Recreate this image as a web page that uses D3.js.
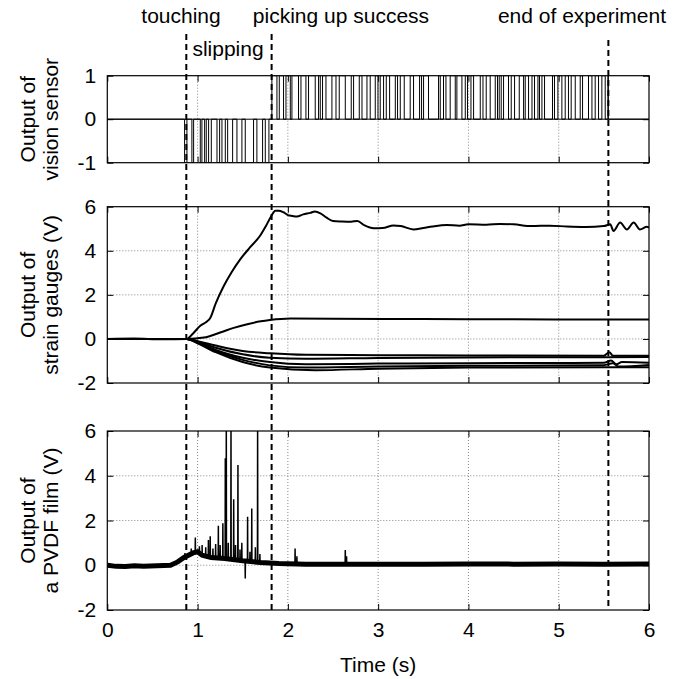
<!DOCTYPE html>
<html>
<head>
  <meta charset="UTF-8" />
  <title>Vision sensor, strain gauges and PVDF film</title>
  <script src="https://cdn.jsdelivr.net/npm/d3@7"></script>
  <style>
    body { margin: 0; background: #fff; }
    svg { display: block; font-family: 'Liberation Sans', Arial, sans-serif; }
    text { fill: #000; }
  </style>
</head>
<body>
  <svg id="chart" width="685" height="679"></svg>
  <script>
    // ---- data ----
    const timeTicks = [0, 1, 2, 3, 4, 5, 6];
    const visionTicks = [-1, 0, 1];
    const voltTicks = [-2, 0, 2, 4, 6];

    // event markers (s)
    const eventTimes = [0.875, 1.82, 5.55];

    // vision sensor: edges where output toggles 0 <-> -1 (slipping)
    const slipEdges = [0.856, 0.882, 0.937, 0.956, 1.030, 1.048, 1.078, 1.096, 1.122, 1.152,
      1.215, 1.244, 1.270, 1.307, 1.333, 1.388, 1.436, 1.491, 1.528, 1.620, 1.657, 1.720,
      1.750, 1.790];
    // vision sensor: rises to 1 at 1.823, then toggles 1 <-> 0 on these edges
    const successStart = 1.823;
    const successEdges = [1.879, 1.905, 1.952, 1.979, 2.027, 2.045, 2.118, 2.145, 2.200, 2.229,
      2.303, 2.340, 2.359, 2.384, 2.422, 2.488, 2.533, 2.569, 2.636, 2.702, 2.728, 2.791,
      2.821, 2.876, 2.912, 2.968, 2.998, 3.023, 3.060, 3.090, 3.127, 3.190, 3.215, 3.245,
      3.289, 3.355, 3.392, 3.459, 3.481, 3.503, 3.558, 3.669, 3.688, 3.724, 3.751, 3.798,
      3.854, 3.872, 3.928, 3.965, 3.990, 4.028, 4.057, 4.131, 4.161, 4.197, 4.241, 4.297,
      4.322, 4.341, 4.363, 4.389, 4.444, 4.474, 4.511, 4.563, 4.611, 4.629, 4.666, 4.704,
      4.732, 4.770, 4.787, 4.814, 4.843, 4.931, 4.953, 4.991, 5.035, 5.072, 5.108, 5.138,
      5.183, 5.238, 5.264, 5.330, 5.368, 5.404, 5.441, 5.478, 5.515, 5.545];
    const visionEnd = 5.55;

    // strain gauges [time, volts]
    const gaugeMain = [[0, 0], [0.3, 0.02], [0.6, -0.02], [0.88, 0], [0.95, 0.25], [1.03, 0.6],
      [1.1, 0.78], [1.14, 0.95], [1.2, 1.6], [1.29, 2.4], [1.38, 3.05], [1.47, 3.6], [1.58, 4.15],
      [1.69, 4.67], [1.76, 5.15], [1.82, 5.6], [1.86, 5.82], [1.9, 5.82], [1.95, 5.75], [2.0, 5.62],
      [2.05, 5.58], [2.1, 5.55], [2.17, 5.65], [2.25, 5.72], [2.3, 5.78], [2.36, 5.7], [2.43, 5.5],
      [2.5, 5.35], [2.6, 5.33], [2.7, 5.32], [2.77, 5.35], [2.85, 5.15], [2.95, 5.02], [3.05, 5.03],
      [3.17, 5.15], [3.25, 5.12], [3.39, 4.97], [3.5, 5.03], [3.6, 5.1], [3.76, 5.17], [3.9, 5.14],
      [4.0, 5.2], [4.2, 5.18], [4.35, 5.22], [4.5, 5.2], [4.7, 5.12], [4.9, 5.14], [5.09, 5.1],
      [5.3, 5.08], [5.5, 5.12], [5.57, 5.2], [5.607, 4.9], [5.68, 5.28], [5.755, 4.97], [5.83, 5.28],
      [5.9, 4.97], [5.977, 5.09], [6, 5.05]];
    const gaugeUp = [[0, 0], [0.88, 0], [1.07, 0.06], [1.25, 0.29], [1.4, 0.5], [1.55, 0.67],
      [1.7, 0.8], [1.8, 0.86], [2.03, 0.93], [2.5, 0.92], [3.5, 0.9], [4.5, 0.89], [5.5, 0.88], [6, 0.88]];
    const gaugeDown1 = [[0, 0], [0.88, 0], [1.0, -0.1], [1.2, -0.3], [1.5, -0.55], [1.8, -0.65],
      [2.2, -0.72], [3, -0.74], [4, -0.75], [5.5, -0.76], [5.56, -0.6], [5.6, -0.76], [6, -0.76]];
    const gaugeDown2 = [[0, 0], [0.88, 0], [1.0, -0.12], [1.2, -0.4], [1.5, -0.7], [1.8, -0.85],
      [2.2, -0.9], [3, -0.86], [4, -0.84], [5.5, -0.83], [6, -0.82]];
    const gaugeDown3 = [[0, 0], [0.88, 0], [1.0, -0.15], [1.2, -0.5], [1.5, -0.85], [1.8, -1.05],
      [2.2, -1.15], [3, -1.12], [4, -1.1], [5.5, -1.08], [5.58, -0.98], [5.64, -1.15], [5.7, -1.05], [6, -1.08]];
    const gaugeDown4 = [[0, 0], [0.88, 0], [1.0, -0.17], [1.2, -0.55], [1.5, -0.95], [1.8, -1.2],
      [2.2, -1.3], [3, -1.25], [4, -1.22], [5.5, -1.19], [5.6, -1.1], [5.66, -1.25], [6, -1.18]];
    const gaugeDown5 = [[0, 0], [0.88, 0], [1.0, -0.2], [1.2, -0.6], [1.5, -1.05], [1.8, -1.3],
      [2.3, -1.42], [3, -1.35], [4, -1.3], [5.5, -1.28], [6, -1.28]];
    const gauges = [gaugeMain, gaugeUp, gaugeDown1, gaugeDown2, gaugeDown3, gaugeDown4, gaugeDown5];

    // PVDF film: slow baseline [time, volts] and sharp spikes [time, peak volts]
    const pvdfBase = [[0, 0.0], [0.1, -0.05], [0.2, -0.06], [0.3, -0.02], [0.4, -0.04], [0.55, -0.02],
      [0.7, 0.0], [0.78, 0.15], [0.85, 0.35], [0.95, 0.55], [1.0, 0.6], [1.05, 0.45], [1.15, 0.35],
      [1.3, 0.3], [1.5, 0.2], [1.7, 0.12], [1.9, 0.08], [2.2, 0.05], [2.6, 0.05], [3.0, 0.04],
      [3.5, 0.05], [4.0, 0.06], [4.5, 0.05], [5.0, 0.06], [5.5, 0.05], [6, 0.06]];
    const pvdfSpikes = [[0.86, 0.55], [0.93, 0.75], [0.975, 1.24], [1.02, 0.85], [1.05, 0.9],
      [1.09, 0.8], [1.12, 1.13], [1.14, 1.3], [1.17, 0.75], [1.2, 0.95], [1.23, 1.76],
      [1.25, 0.9], [1.28, 1.88], [1.307, 4.78], [1.318, 6.5], [1.34, 1.0], [1.37, 6.5],
      [1.40, 2.95], [1.42, 0.9], [1.447, 4.48], [1.47, 0.7], [1.49, 1.0], [1.528, -0.59],
      [1.554, 2.17], [1.58, 0.6], [1.60, 2.54], [1.64, 0.8], [1.665, 6.5], [1.69, 0.5],
      [2.08, 0.75], [2.1, 0.4], [2.636, 0.68], [2.65, 0.4]];

    // ---- layout ----
    const svg = d3.select('#chart');
    const left = 107.3, right = 649;
    const fs = 21;
    const x = d3.scaleLinear().domain([0, 6]).range([left, right]);

    const panels = [
      { top: 75.7, bottom: 162.7, domain: [-1, 1], ticks: visionTicks, grid: false,
        title: ['Output of', 'vision sensor'] },
      { top: 206.7, bottom: 383, domain: [-2, 6], ticks: voltTicks, grid: true,
        title: ['Output of', 'strain gauges (V)'] },
      { top: 431, bottom: 610, domain: [-2, 6], ticks: voltTicks, grid: true,
        title: ['Output of', 'a PVDF film (V)'] }
    ];

    panels.forEach((p, i) => {
      p.y = d3.scaleLinear().domain(p.domain).range([p.bottom, p.top]);
      p.g = svg.append('g').attr('class', 'panel' + i);
      svg.append('clipPath').attr('id', 'clip' + i)
        .append('rect').attr('x', left).attr('y', p.top)
        .attr('width', right - left).attr('height', p.bottom - p.top);

      // dotted grid
      const grid = p.g.append('g').attr('stroke', '#888').attr('stroke-width', 1)
        .attr('stroke-dasharray', '1,2');
      grid.selectAll('.gx').data(timeTicks.slice(1, -1)).join('line')
        .attr('x1', d => x(d)).attr('x2', d => x(d))
        .attr('y1', p.top).attr('y2', p.bottom);
      if (p.grid) {
        grid.selectAll('.gy').data(p.ticks.slice(1, -1)).join('line')
          .attr('x1', left).attr('x2', right)
          .attr('y1', d => p.y(d)).attr('y2', d => p.y(d));
      }

      // axes with inward ticks, mirrored
      const axL = d3.axisLeft(p.y).tickValues(p.ticks).tickSize(-6).tickPadding(11)
        .tickFormat(d => String(d));
      const axR = d3.axisRight(p.y).tickValues(p.ticks).tickSize(-6).tickFormat('');
      const axB = d3.axisBottom(x).tickValues(timeTicks).tickSize(-6).tickPadding(12)
        .tickFormat(i === 2 ? d => String(d) : '');
      const axT = d3.axisTop(x).tickValues(timeTicks).tickSize(-6).tickFormat('');
      [[axL, `translate(${left},0)`], [axR, `translate(${right},0)`],
       [axB, `translate(0,${p.bottom})`], [axT, `translate(0,${p.top})`]].forEach(([ax, tr]) => {
        const a = p.g.append('g').attr('transform', tr).call(ax);
        a.select('.domain').remove();
        a.selectAll('line').attr('stroke', '#000');
        a.selectAll('text').attr('font-size', fs).attr('fill', '#000');
      });

      // frame
      p.g.append('rect').attr('x', left).attr('y', p.top)
        .attr('width', right - left).attr('height', p.bottom - p.top)
        .attr('fill', 'none').attr('stroke', '#000').attr('stroke-width', 1.2);

      // y title (two lines)
      const cy = (p.top + p.bottom) / 2;
      p.title.forEach((t, k) => {
        svg.append('text')
          .attr('transform', `translate(${35 + k * 23},${cy}) rotate(-90)`)
          .attr('text-anchor', 'middle').attr('font-size', fs).text(t);
      });
    });

    // ---- panel 1: vision sensor step signal ----
    const p1 = panels[0];
    const visionPts = [[0, 0]];
    let level = 0;
    slipEdges.forEach(t => { level = level === 0 ? -1 : 0; visionPts.push([t, level]); });
    visionPts.push([successStart, 1]);
    level = 1;
    successEdges.forEach(t => { level = level === 1 ? 0 : 1; visionPts.push([t, level]); });
    visionPts.push([visionEnd, 0], [6, 0]);

    p1.g.append('line').attr('x1', left).attr('x2', right)
      .attr('y1', p1.y(0)).attr('y2', p1.y(0)).attr('stroke', '#000').attr('stroke-width', 1);
    p1.g.append('path').datum(visionPts)
      .attr('clip-path', 'url(#clip0)')
      .attr('fill', 'none').attr('stroke', '#000').attr('stroke-width', 1)
      .attr('d', d3.line().x(d => x(d[0])).y(d => p1.y(d[1])).curve(d3.curveStepAfter));

    // ---- panel 2: strain gauges ----
    const p2 = panels[1];
    const gLine = d3.line().x(d => x(d[0])).y(d => p2.y(d[1])).curve(d3.curveMonotoneX);
    p2.g.append('g').attr('clip-path', 'url(#clip1)')
      .selectAll('path').data(gauges).join('path')
      .attr('fill', 'none').attr('stroke', '#000').attr('stroke-width', 2)
      .attr('stroke-linejoin', 'round')
      .attr('d', gLine);

    // ---- panel 3: PVDF film ----
    const p3 = panels[2];
    const baseAt = t => {
      const i = d3.bisector(d => d[0]).right(pvdfBase, t);
      const a = pvdfBase[Math.max(0, i - 1)], b = pvdfBase[Math.min(pvdfBase.length - 1, i)];
      return a[0] === b[0] ? a[1] : a[1] + (b[1] - a[1]) * (t - a[0]) / (b[0] - a[0]);
    };
    const pvdfPts = pvdfBase.map(d => d.slice());
    pvdfSpikes.forEach(([t, v]) => {
      pvdfPts.push([t - 0.002, baseAt(t - 0.002)], [t, v], [t + 0.002, baseAt(t + 0.002)]);
    });
    pvdfPts.sort((a, b) => a[0] - b[0]);
    const g3 = p3.g.append('g').attr('clip-path', 'url(#clip2)');
    g3.append('path').datum(pvdfBase)
      .attr('fill', 'none').attr('stroke', '#000').attr('stroke-width', 5)
      .attr('d', d3.line().x(d => x(d[0])).y(d => p3.y(d[1])));
    g3.append('path').datum(pvdfPts)
      .attr('fill', 'none').attr('stroke', '#000').attr('stroke-width', 1.5)
      .attr('d', d3.line().x(d => x(d[0])).y(d => p3.y(d[1])));

    // ---- event markers ----
    const evTop = [34, 34, 40];
    svg.append('g').selectAll('line').data(eventTimes).join('line')
      .attr('x1', d => x(d)).attr('x2', d => x(d))
      .attr('y1', (d, i) => evTop[i]).attr('y2', p3.bottom)
      .attr('stroke', '#000').attr('stroke-width', 2).attr('stroke-dasharray', '6,4');

    const labels = [
      { text: 'touching', cx: 181, y: 23 },
      { text: 'slipping', cx: 228, y: 56 },
      { text: 'picking up success', cx: 341, y: 23 },
      { text: 'end of experiment', cx: 582, y: 23 }
    ];
    svg.append('g').selectAll('text').data(labels).join('text')
      .attr('x', d => d.cx).attr('y', d => d.y)
      .attr('text-anchor', 'middle').attr('font-size', fs)
      .text(d => d.text);

    // x title
    svg.append('text').attr('x', x(3)).attr('y', 672)
      .attr('text-anchor', 'middle').attr('font-size', fs).text('Time (s)');
  </script>
</body>
</html>
